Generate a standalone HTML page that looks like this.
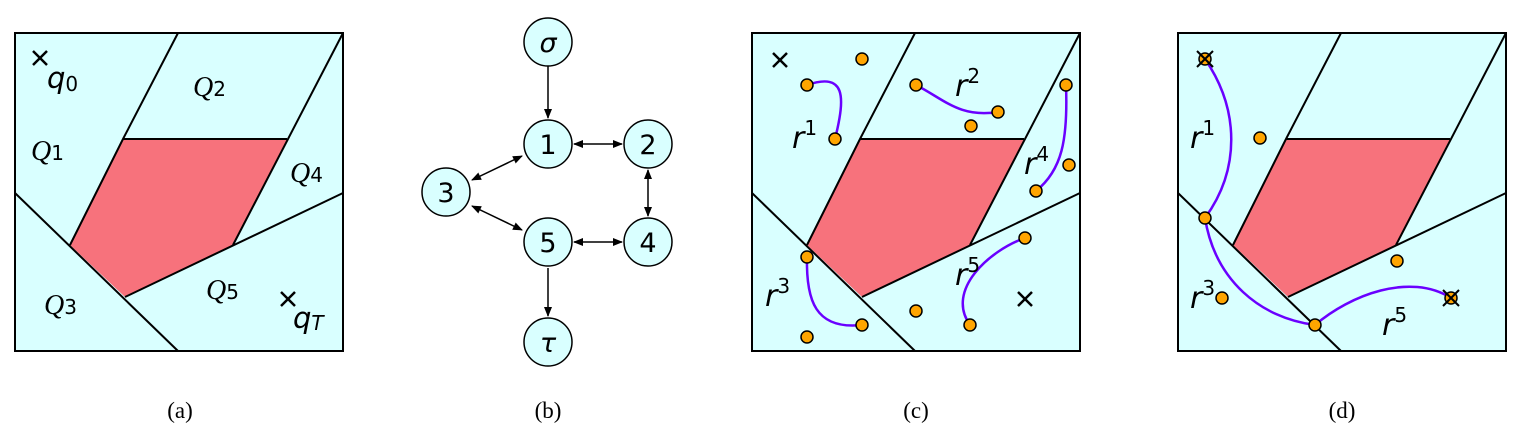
<!DOCTYPE html>
<html><head><meta charset="utf-8"><style>
html,body{margin:0;padding:0;background:#fff;}
svg{display:block;}
.m{font-family:"DejaVu Sans","Liberation Sans",sans-serif;font-style:oblique;}
.q{font-family:"Liberation Serif",serif;font-style:italic;}
.cap{font-family:"Liberation Serif",serif;font-size:23px;}
</style></head><body>
<svg width="1518" height="441" viewBox="0 0 1518 441" xmlns="http://www.w3.org/2000/svg">
<defs>
<g id="env">
  <rect x="0" y="33" width="328" height="318" fill="#d9ffff" stroke="#000" stroke-width="2"/>
  <polygon points="108,139 272,139 218,245 110,297 55,245" fill="#f7727c"/>
  <g stroke="#000" stroke-width="2" fill="none">
    <polyline points="163,33 108,139 55,245"/>
    <line x1="108" y1="139" x2="272" y2="139"/>
    <line x1="328" y1="33" x2="218" y2="245"/>
    <line x1="0" y1="193" x2="163" y2="351"/>
    <line x1="110" y1="297" x2="328" y2="193"/>
  </g>
</g>
<marker id="ah" markerWidth="10" markerHeight="8" refX="9" refY="4" orient="auto-start-reverse" markerUnits="userSpaceOnUse">
  <path d="M0,0 L10,4 L0,8 z" fill="#000"/>
</marker>
</defs>

<!-- (a) -->
<g transform="translate(15,0)"><use href="#env"/></g>
<g stroke="#000" stroke-width="2.5">
  <line x1="33" y1="51" x2="47" y2="65"/><line x1="47" y1="51" x2="33" y2="65"/>
  <line x1="281" y1="292" x2="295" y2="306"/><line x1="295" y1="292" x2="281" y2="306"/>
</g>
<g class="m" font-size="29" fill="#000">
  <text x="47" y="88">q<tspan font-size="20" dy="3" font-style="normal">0</tspan></text>
  <text x="293" y="328">q<tspan font-size="20" dy="2">T</tspan></text>
</g>
<g class="q" font-size="28" fill="#000">
  <text x="193" y="96">Q<tspan font-size="20" font-style="normal" font-family="DejaVu Sans">2</tspan></text>
  <text x="31" y="160">Q<tspan font-size="20" font-style="normal" font-family="DejaVu Sans">1</tspan></text>
  <text x="290" y="182">Q<tspan font-size="20" font-style="normal" font-family="DejaVu Sans">4</tspan></text>
  <text x="206" y="299">Q<tspan font-size="20" font-style="normal" font-family="DejaVu Sans">5</tspan></text>
  <text x="44" y="314">Q<tspan font-size="20" font-style="normal" font-family="DejaVu Sans">3</tspan></text>
</g>

<!-- (b) -->
<g stroke="#000" stroke-width="1.5" fill="none">
  <line x1="548" y1="66" x2="548" y2="118" marker-end="url(#ah)"/>
  <line x1="574" y1="144" x2="622" y2="144" marker-start="url(#ah)" marker-end="url(#ah)"/>
  <line x1="648" y1="170" x2="648" y2="216" marker-start="url(#ah)" marker-end="url(#ah)"/>
  <line x1="574" y1="242" x2="622" y2="242" marker-start="url(#ah)" marker-end="url(#ah)"/>
  <line x1="472" y1="180" x2="522" y2="156" marker-start="url(#ah)" marker-end="url(#ah)"/>
  <line x1="472" y1="206" x2="522" y2="230" marker-start="url(#ah)" marker-end="url(#ah)"/>
  <line x1="548" y1="268" x2="548" y2="316" marker-end="url(#ah)"/>
</g>
<g fill="#d9ffff" stroke="#000" stroke-width="1.5">
  <circle cx="548" cy="42" r="24"/><circle cx="548" cy="144" r="24"/><circle cx="648" cy="144" r="24"/>
  <circle cx="446" cy="192" r="24"/><circle cx="548" cy="242" r="24"/><circle cx="648" cy="242" r="24"/>
  <circle cx="548" cy="342" r="24"/>
</g>
<g font-family="DejaVu Sans,sans-serif" font-size="27" text-anchor="middle" fill="#000">
  <text x="548" y="52" font-style="oblique">σ</text>
  <text x="548" y="154">1</text><text x="648" y="154">2</text><text x="446" y="202">3</text>
  <text x="548" y="252">5</text><text x="648" y="252">4</text>
  <text x="548" y="352" font-style="oblique">τ</text>
</g>

<!-- (c) -->
<g transform="translate(752,0)"><use href="#env"/></g>
<g stroke="#6a00ff" stroke-width="2.5" fill="none">
  <path d="M807,85 C845,72 846,95 835,139"/>
  <path d="M916,85 C945,100 960,118 998,112"/>
  <path d="M1066,85 C1068,140 1062,170 1036,191"/>
  <path d="M807,257 C806,300 815,330 862,325"/>
  <path d="M1025,238 C990,250 945,290 970,325"/>
</g>
<g stroke="#000" stroke-width="2.5">
  <line x1="773" y1="53" x2="787" y2="67"/><line x1="787" y1="53" x2="773" y2="67"/>
  <line x1="1018" y1="292" x2="1032" y2="306"/><line x1="1032" y1="292" x2="1018" y2="306"/>
</g>
<g fill="#ffa500" stroke="#000" stroke-width="1.5">
  <circle cx="862" cy="59" r="6"/><circle cx="807" cy="85" r="6"/><circle cx="835" cy="139" r="6"/>
  <circle cx="916" cy="85" r="6"/><circle cx="998" cy="112" r="6"/><circle cx="971" cy="126" r="6"/>
  <circle cx="1066" cy="85" r="6"/><circle cx="1036" cy="191" r="6"/><circle cx="1069" cy="165" r="6"/>
  <circle cx="807" cy="257" r="6"/><circle cx="862" cy="325" r="6"/><circle cx="807" cy="337" r="6"/>
  <circle cx="1025" cy="238" r="6"/><circle cx="970" cy="325" r="6"/><circle cx="916" cy="311" r="6"/>
</g>
<g class="m" font-size="30" fill="#000">
  <text x="792" y="148">r<tspan font-size="20" dy="-13" font-style="normal">1</tspan></text>
  <text x="955" y="96">r<tspan font-size="20" dy="-13" font-style="normal">2</tspan></text>
  <text x="1024" y="174">r<tspan font-size="20" dy="-13" font-style="normal">4</tspan></text>
  <text x="765" y="306">r<tspan font-size="20" dy="-13" font-style="normal">3</tspan></text>
  <text x="955" y="285">r<tspan font-size="20" dy="-13" font-style="normal">5</tspan></text>
</g>

<!-- (d) -->
<g transform="translate(1178,0)"><use href="#env"/></g>
<g stroke="#6a00ff" stroke-width="2.5" fill="none">
  <path d="M1205,59 C1240,110 1240,170 1205,218"/>
  <path d="M1205,218 C1215,280 1260,318 1315,325"/>
  <path d="M1315,325 C1350,295 1410,272 1451,298"/>
</g>
<g fill="#ffa500" stroke="#000" stroke-width="1.5">
  <circle cx="1205" cy="59" r="6"/><circle cx="1260" cy="138" r="6"/><circle cx="1205" cy="218" r="6"/>
  <circle cx="1222" cy="298" r="6"/><circle cx="1315" cy="325" r="6"/><circle cx="1397" cy="261" r="6"/>
  <circle cx="1451" cy="298" r="6"/>
</g>
<g stroke="#000" stroke-width="2">
  <line x1="1197" y1="51" x2="1213" y2="67"/><line x1="1213" y1="51" x2="1197" y2="67"/>
  <line x1="1443" y1="290" x2="1459" y2="306"/><line x1="1459" y1="290" x2="1443" y2="306"/>
</g>
<g class="m" font-size="30" fill="#000">
  <text x="1190" y="148">r<tspan font-size="20" dy="-13" font-style="normal">1</tspan></text>
  <text x="1190" y="308">r<tspan font-size="20" dy="-13" font-style="normal">3</tspan></text>
  <text x="1382" y="335">r<tspan font-size="20" dy="-13" font-style="normal">5</tspan></text>
</g>

<!-- captions -->
<g class="cap" text-anchor="middle" fill="#000">
  <text x="180" y="418">(a)</text><text x="548" y="418">(b)</text>
  <text x="916" y="418">(c)</text><text x="1342" y="418">(d)</text>
</g>
</svg>
</body></html>
